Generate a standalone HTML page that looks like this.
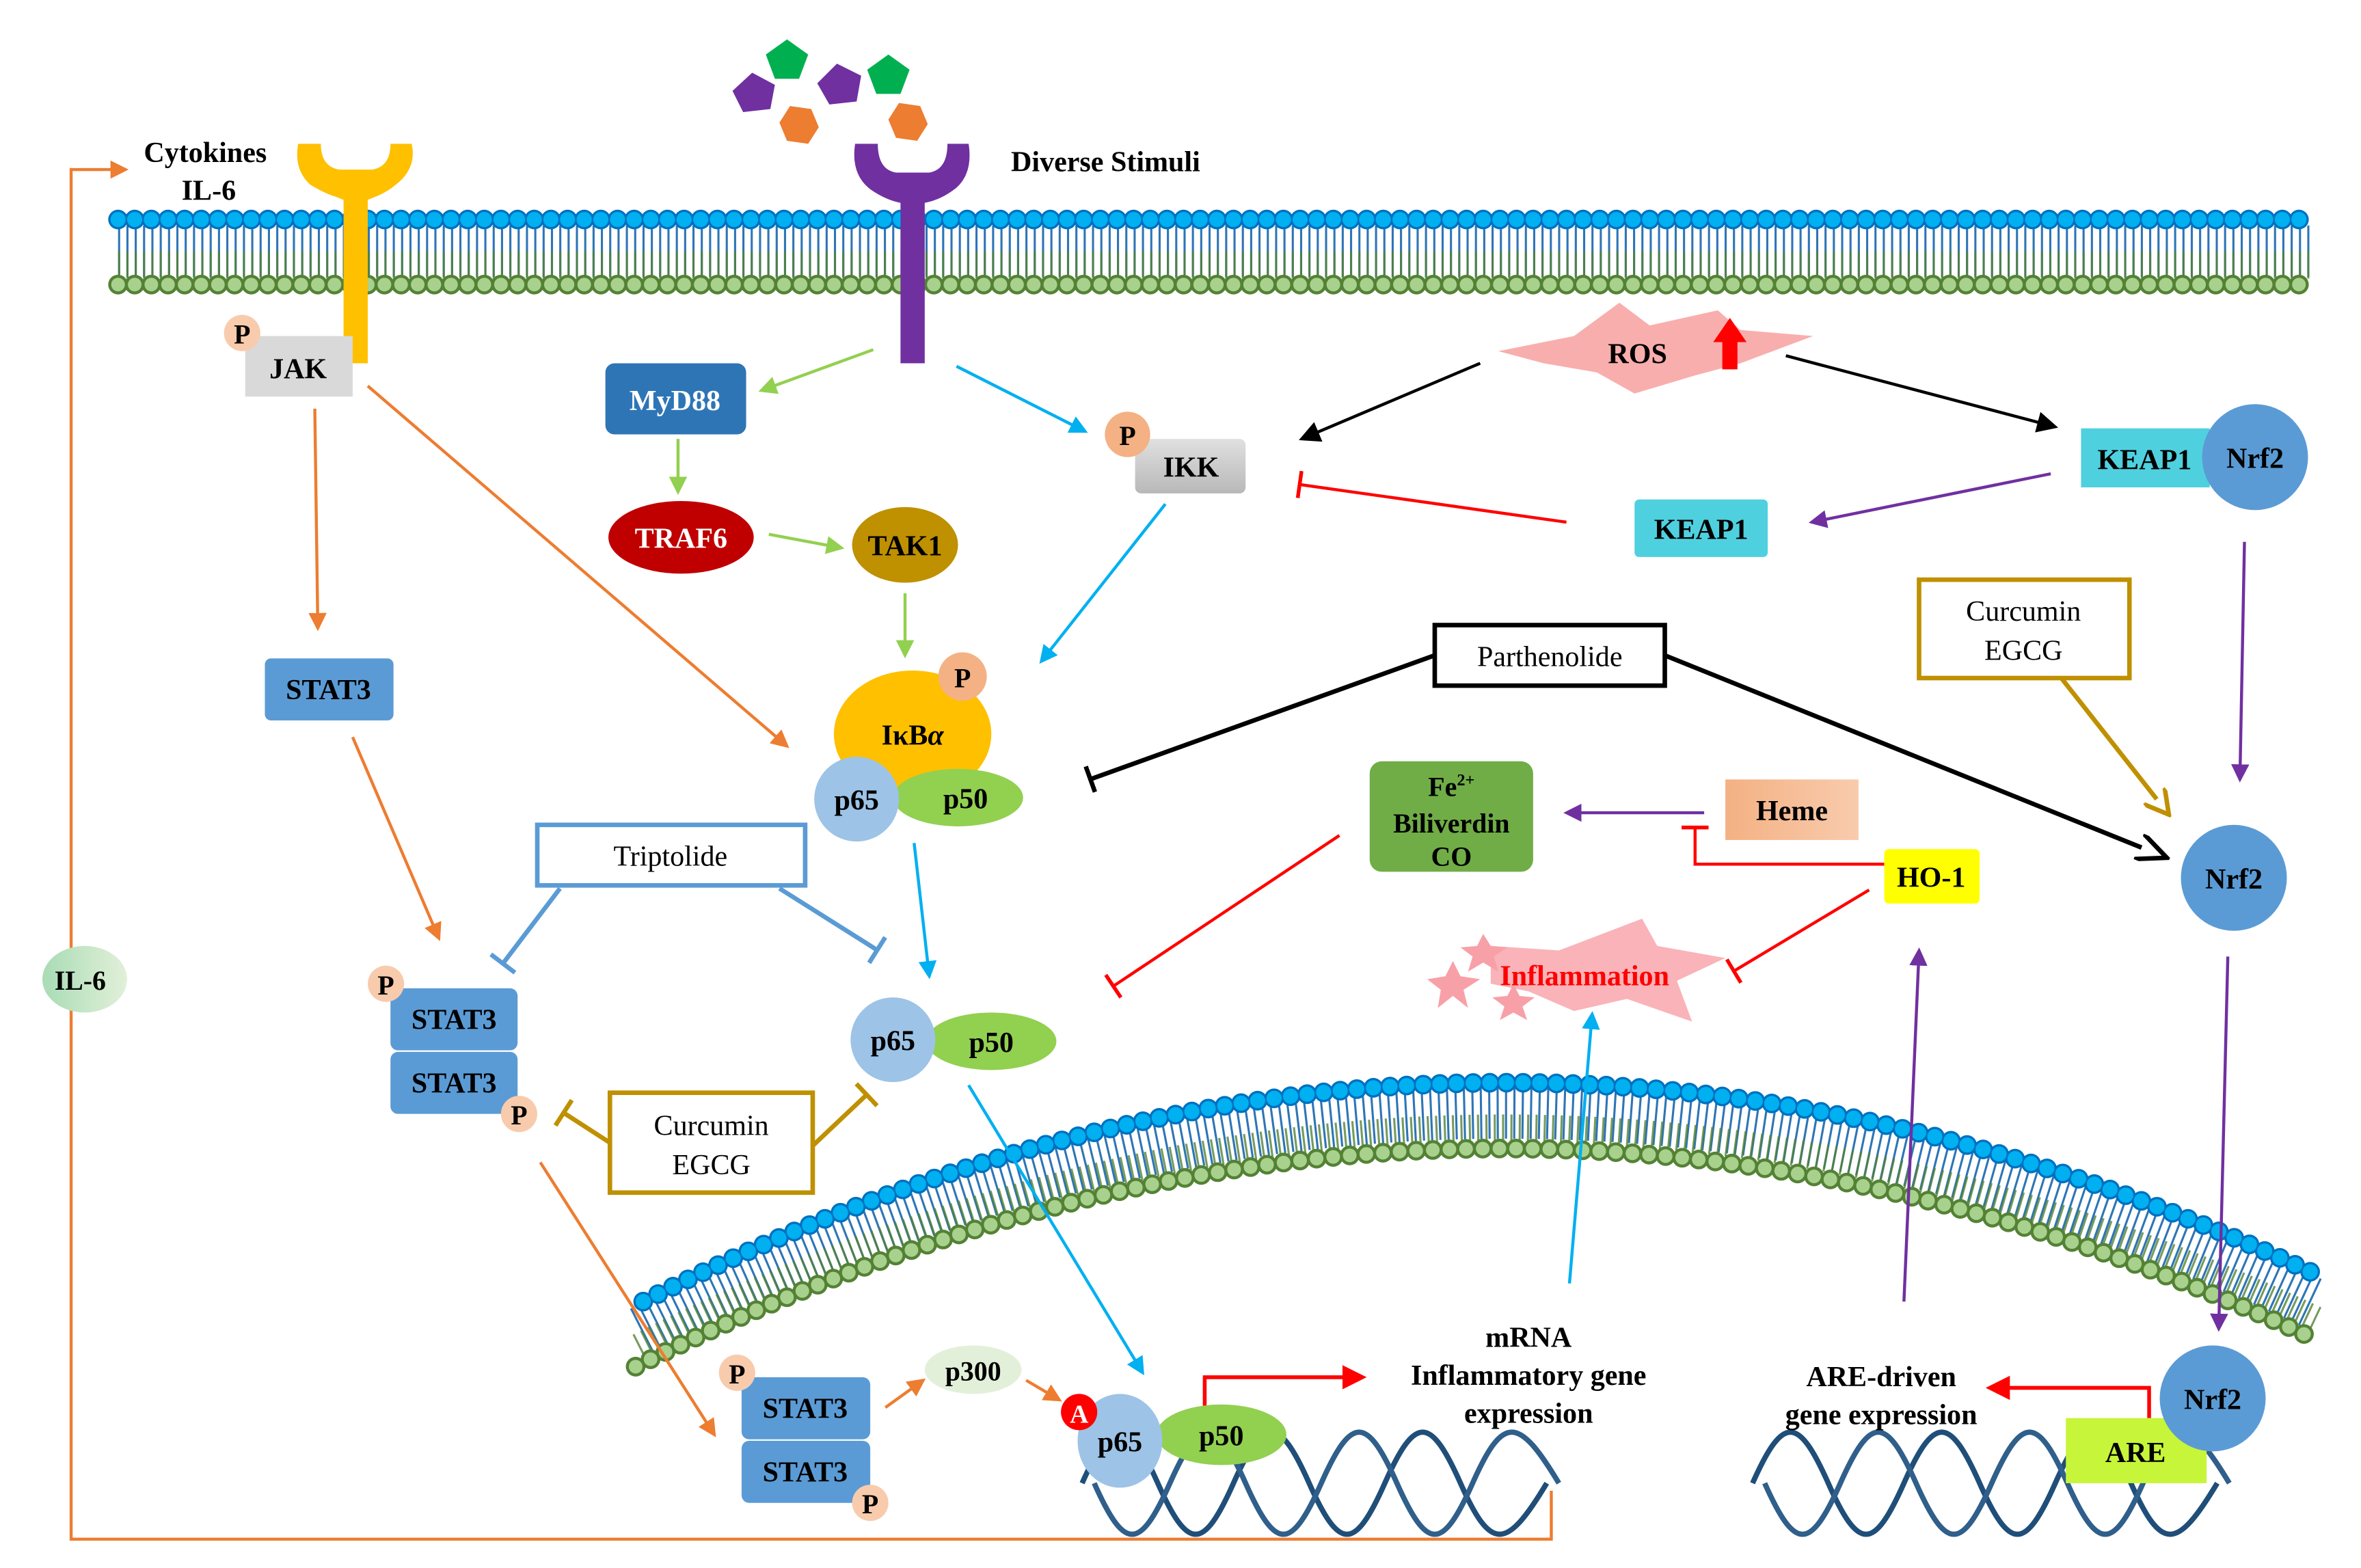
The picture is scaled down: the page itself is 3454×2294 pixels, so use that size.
<!DOCTYPE html>
<html><head><meta charset="utf-8"><style>html,body{margin:0;padding:0;background:#fff}svg{display:block}text{font-family:"Liberation Serif",serif;font-weight:bold}</style></head><body>
<svg width="3454" height="2294" viewBox="0 0 1560 1036" xmlns="http://www.w3.org/2000/svg">
<defs>
<marker id="aO" markerWidth="12" markerHeight="12" refX="10" refY="6" orient="auto" markerUnits="userSpaceOnUse"><path d="M0,0 L12,6 L0,12 z" fill="#ed7d31"/></marker>
<marker id="aG" markerWidth="12" markerHeight="12" refX="10" refY="6" orient="auto" markerUnits="userSpaceOnUse"><path d="M0,0 L12,6 L0,12 z" fill="#92d050"/></marker>
<marker id="aB" markerWidth="12" markerHeight="12" refX="10" refY="6" orient="auto" markerUnits="userSpaceOnUse"><path d="M0,0 L12,6 L0,12 z" fill="#00b0f0"/></marker>
<marker id="aK" markerWidth="14" markerHeight="14" refX="12" refY="7" orient="auto" markerUnits="userSpaceOnUse"><path d="M0,0 L14,7 L0,14 z" fill="#000"/></marker>
<marker id="aK2" markerWidth="22" markerHeight="18" refX="2" refY="9" orient="auto" markerUnits="userSpaceOnUse"><path d="M0,0 L20,9 L0,18" fill="none" stroke="#000" stroke-width="3"/></marker>
<marker id="aP" markerWidth="12" markerHeight="12" refX="10" refY="6" orient="auto" markerUnits="userSpaceOnUse"><path d="M0,0 L12,6 L0,12 z" fill="#7030a0"/></marker>
<marker id="aR" markerWidth="16" markerHeight="16" refX="13" refY="8" orient="auto" markerUnits="userSpaceOnUse"><path d="M0,0 L16,8 L0,16 z" fill="#ff0000"/></marker>
<marker id="aY" markerWidth="18" markerHeight="18" refX="3" refY="9" orient="auto" markerUnits="userSpaceOnUse"><path d="M0,0 L16,9 L0,18" fill="none" stroke="#bf9000" stroke-width="3"/></marker>
<marker id="bR" markerWidth="4" markerHeight="18" refX="2" refY="9" orient="auto" markerUnits="userSpaceOnUse"><rect x="0" y="0" width="2.5" height="18" fill="#ff0000"/></marker>
<marker id="bK" markerWidth="4" markerHeight="18" refX="2" refY="9" orient="auto" markerUnits="userSpaceOnUse"><rect x="0" y="0" width="3" height="18" fill="#000"/></marker>
<marker id="bY" markerWidth="4" markerHeight="20" refX="2" refY="10" orient="auto" markerUnits="userSpaceOnUse"><rect x="0" y="0" width="3" height="20" fill="#bf9000"/></marker>
<marker id="bL" markerWidth="4" markerHeight="20" refX="2" refY="10" orient="auto" markerUnits="userSpaceOnUse"><rect x="0" y="0" width="3" height="20" fill="#5b9bd5"/></marker>
<linearGradient id="gI" x1="0" y1="0" x2="0" y2="1"><stop offset="0" stop-color="#e0e0e0"/><stop offset="1" stop-color="#b8b8b8"/></linearGradient>
<linearGradient id="gH" x1="0" y1="0" x2="1" y2="0"><stop offset="0" stop-color="#f4b183"/><stop offset="1" stop-color="#f8cbad"/></linearGradient>
<linearGradient id="gIL" x1="0" y1="0" x2="1" y2="0"><stop offset="0" stop-color="#a9dcb5"/><stop offset="1" stop-color="#e2f0d9"/></linearGradient>
</defs>

<!-- top membrane -->
<g>
<line x1="78" y1="166" x2="1530" y2="166" stroke="#2e75b6" stroke-width="34" stroke-dasharray="1.4 4.1"/>
<line x1="78" y1="175" x2="1530" y2="175" stroke="#548235" stroke-width="18" stroke-dasharray="1.4 4.1" opacity="0.8"/>
<line x1="78" y1="188" x2="1530" y2="188" stroke="#548235" stroke-width="13" stroke-linecap="round" stroke-dasharray="0 11"/>
<line x1="78" y1="188" x2="1530" y2="188" stroke="#a9d18e" stroke-width="9" stroke-linecap="round" stroke-dasharray="0 11"/>
<line x1="78" y1="145" x2="1530" y2="145" stroke="#0070c0" stroke-width="13" stroke-linecap="round" stroke-dasharray="0 11"/>
<line x1="78" y1="145" x2="1530" y2="145" stroke="#00b0f0" stroke-width="10" stroke-linecap="round" stroke-dasharray="0 11"/>
</g>
<!-- curved membrane -->
<g fill="none">
<path d="M424,880 Q975,600 1530,862" stroke="#2e75b6" stroke-width="34" stroke-dasharray="1.4 4.1"/>
<path d="M422,890 Q975,610 1530,872" stroke="#548235" stroke-width="18" stroke-dasharray="1.4 4.1" opacity="0.8"/>
<path d="M420,903 Q975,624 1530,885" stroke="#548235" stroke-width="13" stroke-linecap="round" stroke-dasharray="0 11"/>
<path d="M420,903 Q975,624 1530,885" stroke="#a9d18e" stroke-width="9" stroke-linecap="round" stroke-dasharray="0 11"/>
<path d="M425,860 Q975,580 1530,842" stroke="#0070c0" stroke-width="13" stroke-linecap="round" stroke-dasharray="0 11"/>
<path d="M425,860 Q975,580 1530,842" stroke="#00b0f0" stroke-width="10" stroke-linecap="round" stroke-dasharray="0 11"/>
</g>

<!-- receptors -->
<path d="M197,95 Q194,112 205,122 Q215,128 222,130 L227,132 L243,132 L248,130 Q258,126 266,118 Q275,108 272,95 L258,95 Q258,110 246,112 L224,112 Q212,110 212,95 Z" fill="#ffc000"/>
<rect x="227" y="125" width="16" height="115" fill="#ffc000"/>
<path d="M565,95 Q562,115 575,125 Q585,132 595,134 L611,134 Q622,132 632,124 Q643,114 640,95 L626,95 Q626,112 614,114 L592,114 Q580,112 580,95 Z" fill="#7030a0"/>
<rect x="595" y="125" width="16" height="115" fill="#7030a0"/>
<!-- stimuli -->
<polygon points="497,48 512,56 509,72 491,74 484,60" fill="#7030a0"/>
<polygon points="553,42 569,50 566,67 548,69 540,55" fill="#7030a0"/>
<polygon points="520,26 534,36 528,52 512,52 506,36" fill="#00b050"/>
<polygon points="587,36 601,46 595,62 579,62 573,46" fill="#00b050"/>
<polygon points="522,70 536,72 541,84 534,95 520,93 515,81" fill="#ed7d31"/>
<polygon points="594,68 608,70 613,82 606,93 592,91 587,79" fill="#ed7d31"/>

<text x="95" y="107" font-size="19">Cytokines</text>
<text x="120" y="132" font-size="19">IL-6</text>
<text x="668" y="113" font-size="19">Diverse Stimuli</text>

<!-- feedback line -->
<polyline points="1025,985 1025,1017 47,1017 47,112 83,112" fill="none" stroke="#ed7d31" stroke-width="2" marker-end="url(#aO)"/>

<!-- arrows -->
<g stroke-width="2" fill="none">
<line x1="208" y1="270" x2="210" y2="415" stroke="#ed7d31" marker-end="url(#aO)"/>
<line x1="243" y1="255" x2="520" y2="493" stroke="#ed7d31" marker-end="url(#aO)"/>
<line x1="233" y1="487" x2="290" y2="620" stroke="#ed7d31" marker-end="url(#aO)"/>
<line x1="357" y1="768" x2="472" y2="948" stroke="#ed7d31" marker-end="url(#aO)"/>
<line x1="585" y1="930" x2="610" y2="912" stroke="#ed7d31" marker-end="url(#aO)"/>
<line x1="678" y1="912" x2="700" y2="925" stroke="#ed7d31" marker-end="url(#aO)"/>
<line x1="577" y1="231" x2="503" y2="258" stroke="#92d050" marker-end="url(#aG)"/>
<line x1="448" y1="290" x2="448" y2="325" stroke="#92d050" marker-end="url(#aG)"/>
<line x1="508" y1="353" x2="556" y2="362" stroke="#92d050" marker-end="url(#aG)"/>
<line x1="598" y1="392" x2="598" y2="433" stroke="#92d050" marker-end="url(#aG)"/>
<line x1="632" y1="242" x2="717" y2="285" stroke="#00b0f0" marker-end="url(#aB)"/>
<line x1="770" y1="333" x2="688" y2="437" stroke="#00b0f0" marker-end="url(#aB)"/>
<line x1="604" y1="557" x2="614" y2="645" stroke="#00b0f0" marker-end="url(#aB)"/>
<line x1="640" y1="717" x2="755" y2="907" stroke="#00b0f0" marker-end="url(#aB)"/>
<line x1="1037" y1="848" x2="1052" y2="670" stroke="#00b0f0" marker-end="url(#aB)"/>
<line x1="978" y1="240" x2="860" y2="290" stroke="#000" marker-end="url(#aK)"/>
<line x1="1180" y1="235" x2="1358" y2="282" stroke="#000" marker-end="url(#aK)"/>
<line x1="948" y1="433" x2="720" y2="515" stroke="#000" stroke-width="3" marker-end="url(#bK)"/>
<line x1="1100" y1="433" x2="1415" y2="560" stroke="#000" stroke-width="3" marker-end="url(#aK2)"/>
<line x1="1035" y1="345" x2="858" y2="320" stroke="#ff0000" marker-end="url(#bR)"/>
<line x1="885" y1="552" x2="735" y2="652" stroke="#ff0000" marker-end="url(#bR)"/>
<line x1="1235" y1="588" x2="1145" y2="642" stroke="#ff0000" marker-end="url(#bR)"/>
<polyline points="1245,571 1120,571 1120,546" stroke="#ff0000" marker-end="url(#bR)"/>
<polyline points="796,930 796,910 900,910" stroke="#ff0000" stroke-width="2.5" marker-end="url(#aR)"/>
<polyline points="1420,937 1420,917 1315,917" stroke="#ff0000" stroke-width="2.5" marker-end="url(#aR)"/>
<line x1="1355" y1="313" x2="1197" y2="345" stroke="#7030a0" marker-end="url(#aP)"/>
<line x1="1126" y1="537" x2="1035" y2="537" stroke="#7030a0" marker-end="url(#aP)"/>
<line x1="1483" y1="358" x2="1480" y2="515" stroke="#7030a0" marker-end="url(#aP)"/>
<line x1="1472" y1="632" x2="1466" y2="878" stroke="#7030a0" marker-end="url(#aP)"/>
<line x1="1258" y1="860" x2="1268" y2="628" stroke="#7030a0" marker-end="url(#aP)"/>
<line x1="1362" y1="448" x2="1425" y2="528" stroke="#bf9000" stroke-width="3" marker-end="url(#aY)"/>
<line x1="403" y1="755" x2="372" y2="735" stroke="#bf9000" stroke-width="3" marker-end="url(#bY)"/>
<line x1="537" y1="757" x2="573" y2="723" stroke="#bf9000" stroke-width="3" marker-end="url(#bY)"/>
<line x1="370" y1="587" x2="332" y2="637" stroke="#5b9bd5" stroke-width="3" marker-end="url(#bL)"/>
<line x1="515" y1="587" x2="580" y2="628" stroke="#5b9bd5" stroke-width="3" marker-end="url(#bL)"/>
</g>

<!-- JAK -->
<rect x="162" y="222" width="71" height="40" fill="#d9d9d9"/>
<circle cx="160" cy="220" r="12" fill="#f8cbad"/><text x="160" y="227" font-size="18" text-anchor="middle">P</text>
<text x="197" y="250" font-size="19" text-anchor="middle">JAK</text>
<!-- MyD88 etc -->
<rect x="400" y="240" width="93" height="47" rx="6" fill="#2e75b6"/><text x="446" y="271" font-size="19" fill="#fff" text-anchor="middle">MyD88</text>
<ellipse cx="450" cy="355" rx="48" ry="24" fill="#c00000"/><text x="450" y="362" font-size="19" fill="#fff" text-anchor="middle">TRAF6</text>
<ellipse cx="598" cy="360" rx="35" ry="25" fill="#bf9000"/><text x="598" y="367" font-size="19" text-anchor="middle">TAK1</text>
<rect x="750" y="290" width="73" height="36" rx="4" fill="url(#gI)"/><text x="787" y="315" font-size="19" text-anchor="middle">IKK</text>
<circle cx="745" cy="287" r="15" fill="#f4b183"/><text x="745" y="294" font-size="18" text-anchor="middle">P</text>
<!-- ROS -->
<path d="M990,232 L1040,222 L1070,200 L1090,215 L1135,205 L1150,218 L1198,222 L1150,240 L1120,248 L1080,260 L1055,246 L1020,240 Z" fill="#f8a0a0" opacity="0.85"/>
<text x="1082" y="240" font-size="19" text-anchor="middle">ROS</text>
<path d="M1138,244 L1138,226 L1132,226 L1143,210 L1154,226 L1148,226 L1148,244 Z" fill="#ff0000"/>
<!-- KEAP1 Nrf2 -->
<rect x="1375" y="283" width="85" height="39" fill="#4fd0df"/><text x="1417" y="310" font-size="19" text-anchor="middle">KEAP1</text>
<circle cx="1490" cy="302" r="35" fill="#5b9bd5"/><text x="1490" y="309" font-size="19" text-anchor="middle">Nrf2</text>
<rect x="1080" y="330" width="88" height="38" rx="3" fill="#4fd0df"/><text x="1124" y="356" font-size="19" text-anchor="middle">KEAP1</text>
<rect x="1268" y="383" width="139" height="65" fill="#fff" stroke="#bf9000" stroke-width="3"/>
<text x="1337" y="410" font-size="19" font-weight="normal" style="font-weight:normal" text-anchor="middle">Curcumin</text>
<text x="1337" y="436" font-size="19" style="font-weight:normal" text-anchor="middle">EGCG</text>
<rect x="948" y="413" width="152" height="40" fill="#fff" stroke="#000" stroke-width="3"/>
<text x="1024" y="440" font-size="19" style="font-weight:normal" text-anchor="middle">Parthenolide</text>
<!-- IkBa complex -->
<ellipse cx="603" cy="485" rx="52" ry="42" fill="#ffc000"/>
<circle cx="636" cy="447" r="16" fill="#f4b183"/><text x="636" y="454" font-size="18" text-anchor="middle">P</text>
<text x="603" y="492" font-size="19" text-anchor="middle">IκB<tspan font-style="italic">α</tspan></text>
<ellipse cx="633" cy="527" rx="43" ry="19" fill="#92d050"/><text x="638" y="534" font-size="19" text-anchor="middle">p50</text>
<circle cx="566" cy="528" r="28" fill="#9dc3e6"/><text x="566" y="535" font-size="19" text-anchor="middle">p65</text>
<!-- Fe/Heme/HO-1 -->
<rect x="905" y="503" width="108" height="73" rx="8" fill="#70ad47"/>
<text x="959" y="526" font-size="18" text-anchor="middle">Fe<tspan font-size="11" dy="-7">2+</tspan></text>
<text x="959" y="550" font-size="18" text-anchor="middle">Biliverdin</text>
<text x="959" y="572" font-size="18" text-anchor="middle">CO</text>
<rect x="1140" y="515" width="88" height="40" fill="url(#gH)"/><text x="1184" y="542" font-size="19" text-anchor="middle">Heme</text>
<rect x="1245" y="561" width="63" height="36" rx="3" fill="#ffff00"/><text x="1276" y="586" font-size="19" text-anchor="middle">HO-1</text>
<circle cx="1476" cy="580" r="35" fill="#5b9bd5"/><text x="1476" y="587" font-size="19" text-anchor="middle">Nrf2</text>
<!-- Triptolide -->
<rect x="355" y="545" width="177" height="40" fill="#fff" stroke="#5b9bd5" stroke-width="3"/>
<text x="443" y="572" font-size="19" style="font-weight:normal" text-anchor="middle">Triptolide</text>
<!-- STAT3 -->
<rect x="175" y="435" width="85" height="41" rx="4" fill="#5b9bd5"/><text x="217" y="462" font-size="19" text-anchor="middle">STAT3</text>
<rect x="258" y="653" width="84" height="41" rx="5" fill="#5b9bd5"/><text x="300" y="680" font-size="19" text-anchor="middle">STAT3</text>
<rect x="258" y="695" width="84" height="41" rx="5" fill="#5b9bd5"/><text x="300" y="722" font-size="19" text-anchor="middle">STAT3</text>
<circle cx="255" cy="650" r="12" fill="#f8cbad"/><text x="255" y="657" font-size="18" text-anchor="middle">P</text>
<circle cx="343" cy="736" r="12" fill="#f8cbad"/><text x="343" y="743" font-size="18" text-anchor="middle">P</text>
<ellipse cx="56" cy="647" rx="28" ry="22" fill="url(#gIL)"/><text x="53" y="654" font-size="18" text-anchor="middle">IL-6</text>
<!-- p65 p50 mid -->
<ellipse cx="655" cy="688" rx="43" ry="19" fill="#92d050"/><text x="655" y="695" font-size="19" text-anchor="middle">p50</text>
<circle cx="590" cy="687" r="28" fill="#9dc3e6"/><text x="590" y="694" font-size="19" text-anchor="middle">p65</text>
<rect x="403" y="722" width="134" height="66" fill="#fff" stroke="#bf9000" stroke-width="3"/>
<text x="470" y="750" font-size="19" style="font-weight:normal" text-anchor="middle">Curcumin</text>
<text x="470" y="776" font-size="19" style="font-weight:normal" text-anchor="middle">EGCG</text>
<!-- Inflammation -->
<path d="M985,625 L1030,628 L1085,607 L1095,625 L1140,633 L1108,648 L1118,675 L1075,660 L1040,668 L1010,655 L985,650 Z" fill="#f8a0a8" opacity="0.8"/>
<polygon points="960,635 965,645 978,647 967,654 970,666 960,658 950,666 952,654 943,647 955,645" fill="#f8a0a8"/>
<polygon points="980,617 985,625 996,626 987,632 990,642 980,636 970,642 973,632 965,626 976,625" fill="#f8a0a8"/>
<polygon points="1000,650 1004,658 1014,659 1006,665 1009,674 1000,669 991,674 994,665 986,659 996,658" fill="#f8a0a8"/>
<text x="1047" y="651" font-size="19" fill="#ff0000" text-anchor="middle">Inflammation</text>

<!-- DNA -->
<g fill="none" stroke-width="3.5">
<path d="M715,985 C735,940 745,940 765,985 S795,1030 815,985 S845,940 865,985 S895,1030 915,985 S945,940 965,985 S995,1030 1022,985" stroke="#1f4e79" transform="translate(0,-5)"/>
<path d="M715,985 C735,1030 745,1030 765,985 S795,940 815,985 S845,1030 865,985 S895,940 915,985 S945,1030 965,985 S995,940 1022,985" stroke="#2f5f8a" transform="translate(8,-5)"/>
<path d="M1158,985 C1178,940 1188,940 1208,985 S1238,1030 1258,985 S1288,940 1308,985 S1338,1030 1358,985 S1388,940 1408,985 S1438,1030 1465,985" stroke="#1f4e79" transform="translate(0,-5)"/>
<path d="M1158,985 C1178,1030 1188,1030 1208,985 S1238,940 1258,985 S1288,1030 1308,985 S1338,940 1358,985 S1388,1030 1408,985 S1438,940 1465,985" stroke="#2f5f8a" transform="translate(8,-5)"/>
</g>
<!-- bottom complexes -->
<rect x="490" y="910" width="85" height="41" rx="5" fill="#5b9bd5"/><text x="532" y="937" font-size="19" text-anchor="middle">STAT3</text>
<rect x="490" y="952" width="85" height="41" rx="5" fill="#5b9bd5"/><text x="532" y="979" font-size="19" text-anchor="middle">STAT3</text>
<circle cx="487" cy="907" r="12" fill="#f8cbad"/><text x="487" y="914" font-size="18" text-anchor="middle">P</text>
<circle cx="575" cy="993" r="12" fill="#f8cbad"/><text x="575" y="1000" font-size="18" text-anchor="middle">P</text>
<ellipse cx="643" cy="905" rx="32" ry="16" fill="#e2f0d9"/><text x="643" y="912" font-size="18" text-anchor="middle">p300</text>
<ellipse cx="807" cy="948" rx="43" ry="20" fill="#92d050"/><text x="807" y="955" font-size="19" text-anchor="middle">p50</text>
<ellipse cx="740" cy="952" rx="28" ry="31" fill="#9dc3e6"/><text x="740" y="959" font-size="19" text-anchor="middle">p65</text>
<circle cx="713" cy="933" r="12" fill="#ff0000"/><text x="713" y="940" font-size="17" fill="#fff" text-anchor="middle">A</text>
<text x="1010" y="890" font-size="19" text-anchor="middle">mRNA</text>
<text x="1010" y="915" font-size="19" text-anchor="middle">Inflammatory gene</text>
<text x="1010" y="940" font-size="19" text-anchor="middle">expression</text>
<text x="1243" y="916" font-size="19" text-anchor="middle">ARE-driven</text>
<text x="1243" y="941" font-size="19" text-anchor="middle">gene expression</text>
<rect x="1365" y="937" width="93" height="43" fill="#c6f53a"/><text x="1411" y="966" font-size="19" text-anchor="middle">ARE</text>
<circle cx="1462" cy="924" r="35" fill="#5b9bd5"/><text x="1462" y="931" font-size="19" text-anchor="middle">Nrf2</text>
</svg>
</body></html>
